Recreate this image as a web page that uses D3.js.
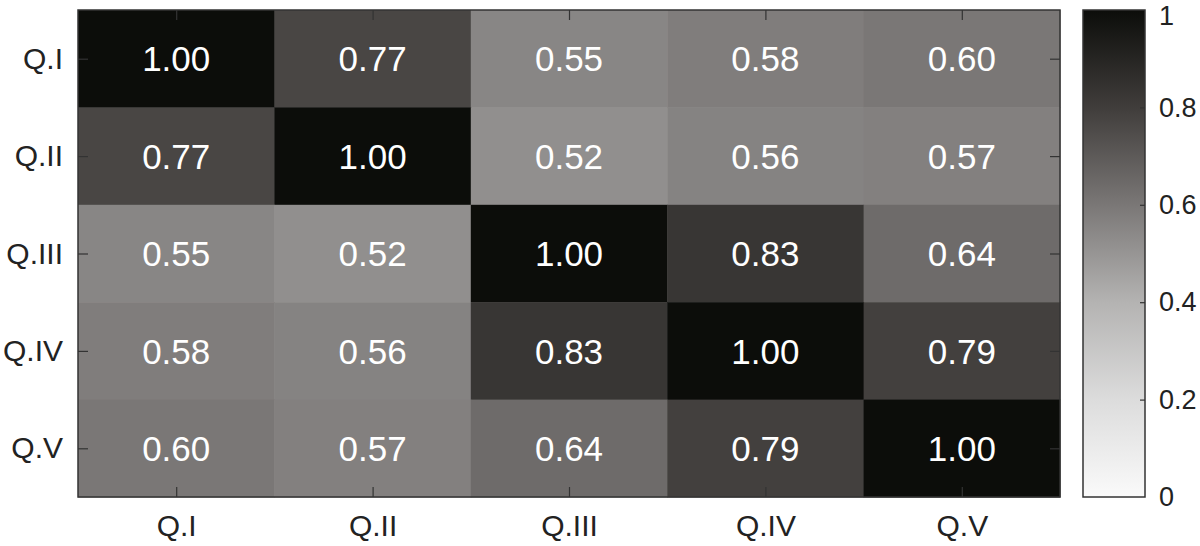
<!DOCTYPE html>
<html>
<head>
<meta charset="utf-8">
<script src="https://cdn.jsdelivr.net/npm/d3@7"></script>
<style>
  body { margin: 0; background: #fff; }
  text { font-family: Arial, "Liberation Sans", Helvetica, sans-serif; }
</style>
</head>
<body>
<div id="vis"></div>
<script>
const labels = ["Q.I", "Q.II", "Q.III", "Q.IV", "Q.V"];
const corr = [
  [1.00, 0.77, 0.55, 0.58, 0.60],
  [0.77, 1.00, 0.52, 0.56, 0.57],
  [0.55, 0.52, 1.00, 0.83, 0.64],
  [0.58, 0.56, 0.83, 1.00, 0.79],
  [0.60, 0.57, 0.64, 0.79, 1.00]
];
const cbarTicks = [0, 0.2, 0.4, 0.6, 0.8, 1];

// grey colormap (white -> black)
const cmapStops = [0, 0.2, 0.4, 0.52, 0.6, 0.8, 1];
const cmapColors = ["#fafafa", "#dcdcdc", "#b4b3b2", "#918f8e", "#7a7776", "#403d3b", "#0c0d0a"];

const W = 1200, H = 546;
const plotL = 78, plotR = 1060, plotT = 10, plotB = 497;
const cbX = 1083, cbW = 62;
const axisColor = "#333";

const svg = d3.select("#vis").append("svg").attr("width", W).attr("height", H);

const x = d3.scaleBand().domain(labels).range([plotL, plotR]);
const y = d3.scaleBand().domain(labels).range([plotT, plotB]);
const color = d3.scaleLinear().domain(cmapStops).range(cmapColors).clamp(true);

const cells = [];
corr.forEach((row, i) => row.forEach((v, j) => cells.push({ r: labels[i], c: labels[j], v })));

svg.append("g").selectAll("rect").data(cells).join("rect")
  .attr("x", d => x(d.c))
  .attr("y", d => y(d.r))
  .attr("width", x.bandwidth() + 0.5)
  .attr("height", y.bandwidth() + 0.5)
  .attr("fill", d => color(d.v));

svg.append("g").selectAll("text").data(cells).join("text")
  .attr("x", d => x(d.c) + x.bandwidth() / 2)
  .attr("y", d => y(d.r) + y.bandwidth() / 2)
  .attr("dy", "0.36em")
  .attr("text-anchor", "middle")
  .attr("fill", "#fff")
  .attr("font-size", 35)
  .text(d => d.v.toFixed(2));

// axes (MATLAB style: inward ticks on all four sides)
const xs = d3.scalePoint().domain(labels).range([plotL + x.bandwidth() / 2, plotR - x.bandwidth() / 2]);
const ys = d3.scalePoint().domain(labels).range([plotT + y.bandwidth() / 2, plotB - y.bandwidth() / 2]);

function styleAxis(g) {
  g.select(".domain").remove();
  g.selectAll(".tick line").attr("stroke", axisColor).attr("stroke-width", 1.2);
  g.selectAll(".tick text").attr("fill", "#222").attr("font-family", "Arial, 'Liberation Sans', sans-serif");
}

svg.append("g").attr("transform", `translate(0,${plotB})`)
  .call(d3.axisBottom(xs).tickSize(-10).tickPadding(18))
  .call(styleAxis)
  .call(g => g.selectAll(".tick text").attr("font-size", 30));
svg.append("g").attr("transform", `translate(0,${plotT})`)
  .call(d3.axisTop(xs).tickSize(-10).tickFormat(""))
  .call(styleAxis);
svg.append("g").attr("transform", `translate(${plotL},0)`)
  .call(d3.axisLeft(ys).tickSize(-10).tickPadding(15))
  .call(styleAxis)
  .call(g => g.selectAll(".tick text").attr("font-size", 30));
svg.append("g").attr("transform", `translate(${plotR},0)`)
  .call(d3.axisRight(ys).tickSize(-10).tickFormat(""))
  .call(styleAxis);

svg.append("rect")
  .attr("x", plotL).attr("y", plotT)
  .attr("width", plotR - plotL).attr("height", plotB - plotT)
  .attr("fill", "none").attr("stroke", axisColor).attr("stroke-width", 1.5);

// colour bar
const cbY = d3.scaleLinear().domain([0, 1]).range([plotB, plotT]);
const grad = svg.append("defs").append("linearGradient")
  .attr("id", "cbar").attr("x1", 0).attr("y1", 1).attr("x2", 0).attr("y2", 0);
grad.selectAll("stop").data(cmapStops).join("stop")
  .attr("offset", d => d)
  .attr("stop-color", (d, i) => cmapColors[i]);

svg.append("rect")
  .attr("x", cbX).attr("y", plotT)
  .attr("width", cbW).attr("height", plotB - plotT)
  .attr("fill", "url(#cbar)")
  .attr("stroke", axisColor).attr("stroke-width", 1.5);

svg.append("g").attr("transform", `translate(${cbX + cbW},0)`)
  .call(d3.axisRight(cbY).tickValues(cbarTicks).tickSize(-5).tickPadding(14).tickFormat(d3.format("")))
  .call(styleAxis)
  .call(g => g.selectAll(".tick text").attr("font-size", 27))
  .call(g => g.selectAll(".tick").filter(d => d === 1).select("text").attr("dy", "0.55em"))
  .call(g => g.selectAll(".tick").filter(d => d === 0 || d === 1).select("line").remove());
</script>
</body>
</html>
